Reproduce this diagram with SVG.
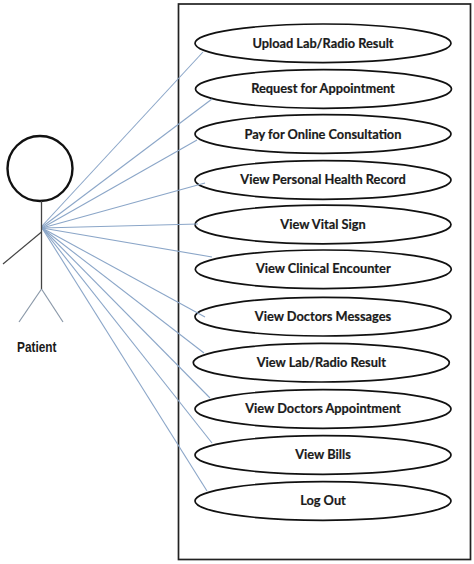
<svg xmlns="http://www.w3.org/2000/svg" width="474" height="564" viewBox="0 0 474 564">
<style>
.uc ellipse{fill:#fff;stroke:#111;stroke-width:1.7}
.uc text{font-family:"Lato","Liberation Sans",sans-serif;font-weight:700;font-size:12.8px;fill:#1a1a1a;stroke:#1a1a1a;stroke-width:.2;text-anchor:middle}
#connectors line{stroke:#8ba6c8;stroke-width:1.1}
</style>
<rect width="474" height="564" fill="#fff"/>
<rect id="boundary" x="178.5" y="4" width="292" height="555.5" fill="#fff" stroke="#222" stroke-width="1.7"/>
<g class="uc" id="uc1"><ellipse cx="323" cy="43.3" rx="128" ry="19.3"/><text x="323" y="47.5">Upload Lab/Radio Result</text></g>
<g class="uc" id="uc2"><ellipse cx="323.5" cy="89" rx="128" ry="19.3"/><text x="323" y="93">Request for Appointment</text></g>
<g class="uc" id="uc3"><ellipse cx="323" cy="134" rx="128" ry="19.3"/><text x="323" y="138.5">Pay for Online Consultation</text></g>
<g class="uc" id="uc4"><ellipse cx="323" cy="180" rx="128" ry="19.3"/><text x="323" y="184">View Personal Health Record</text></g>
<g class="uc" id="uc5"><ellipse cx="323" cy="224.5" rx="128" ry="19.3"/><text x="323" y="229">View Vital Sign</text></g>
<g class="uc" id="uc6"><ellipse cx="323.3" cy="269.3" rx="128" ry="19.3"/><text x="323.3" y="273">View Clinical Encounter</text></g>
<g class="uc" id="uc7"><ellipse cx="323" cy="316.7" rx="128" ry="19.3"/><text x="323" y="320.5">View Doctors Messages</text></g>
<g class="uc" id="uc8"><ellipse cx="321.3" cy="362.7" rx="128" ry="19.3"/><text x="321.3" y="367">View Lab/Radio Result</text></g>
<g class="uc" id="uc9"><ellipse cx="323" cy="409" rx="128" ry="19.3"/><text x="323" y="413">View Doctors Appointment</text></g>
<g class="uc" id="uc10"><ellipse cx="323" cy="455" rx="128" ry="19.3"/><text x="323" y="459">View Bills</text></g>
<g class="uc" id="uc11"><ellipse cx="323" cy="501" rx="128" ry="19.3"/><text x="323" y="505">Log Out</text></g>
<g id="connectors">
<line x1="42" y1="226" x2="203" y2="52"/>
<line x1="42" y1="227" x2="212" y2="99"/>
<line x1="42" y1="228" x2="197" y2="140"/>
<line x1="42" y1="228" x2="205" y2="183"/>
<line x1="42" y1="228" x2="198" y2="224"/>
<line x1="42" y1="228" x2="212" y2="257"/>
<line x1="42" y1="228" x2="205" y2="317"/>
<line x1="42" y1="228" x2="204" y2="353"/>
<line x1="42" y1="228" x2="210" y2="398"/>
<line x1="42" y1="228" x2="212" y2="443"/>
<line x1="42" y1="228" x2="207" y2="491"/>
</g>
<g id="actor">
<circle cx="40" cy="168.5" r="32.5" fill="#fff" stroke="#111" stroke-width="2.4"/>
<line x1="41.5" y1="201" x2="41.5" y2="289" stroke="#444" stroke-width="1.3"/>
<line x1="41.5" y1="232" x2="3" y2="264" stroke="#444" stroke-width="1.2"/>
<line x1="41.5" y1="289" x2="19" y2="322" stroke="#8a98a8" stroke-width="1.2"/>
<line x1="41.5" y1="289" x2="63" y2="322" stroke="#8a98a8" stroke-width="1.2"/>
<text x="17" y="352" font-family="Liberation Sans, sans-serif" font-weight="700" font-size="14.5" fill="#1a1a1a" textLength="39.5" lengthAdjust="spacingAndGlyphs">Patient</text>
</g>
</svg>
